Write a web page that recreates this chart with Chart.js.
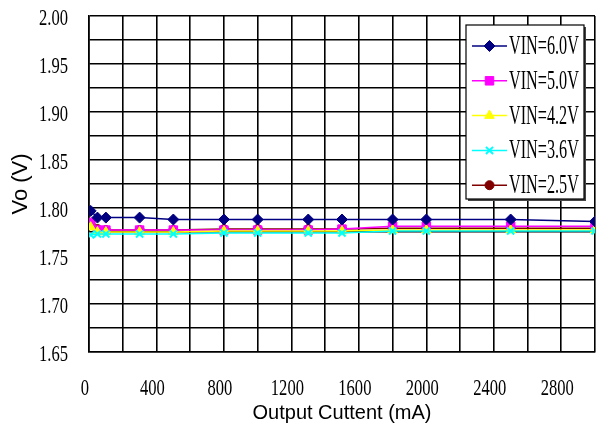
<!DOCTYPE html>
<html>
<head>
<meta charset="utf-8">
<script src="https://cdn.jsdelivr.net/npm/chart.js@4.4.1/dist/chart.umd.min.js"></script>
<style>
  html, body { margin: 0; padding: 0; background: #fff; overflow: hidden; }
  #wrap { width: 602px; height: 430px; }
</style>
</head>
<body>
<div id="wrap"><canvas id="voChart"></canvas></div>
<script>
// output current (mA) and measured output voltage per input voltage
const currents = [10, 50, 100, 300, 500, 800, 1000, 1300, 1500, 1800, 2000, 2500, 3000];
const vin60 = [1.797, 1.790, 1.790, 1.790, 1.788, 1.788, 1.788, 1.788, 1.788, 1.788, 1.788, 1.788, 1.786];
const vin50 = [1.785, 1.777, 1.777, 1.777, 1.777, 1.777, 1.777, 1.777, 1.778, 1.781, 1.781, 1.781, 1.781];
const vin42 = [1.780, 1.775, 1.775, 1.775, 1.775, 1.776, 1.776, 1.776, 1.776, 1.777, 1.777, 1.777, 1.777];
const vin36 = [1.772, 1.773, 1.773, 1.773, 1.773, 1.774, 1.774, 1.774, 1.774, 1.776, 1.776, 1.776, 1.776];
const vin25 = [1.783, 1.778, 1.777, 1.777, 1.777, 1.778, 1.778, 1.778, 1.778, 1.779, 1.779, 1.779, 1.779];
const seriesNames = ['VIN=6.0V', 'VIN=5.0V', 'VIN=4.2V', 'VIN=3.6V', 'VIN=2.5V'];

const xTickLabels = [0, 400, 800, 1200, 1600, 2000, 2400, 2800];
const yTickLabels = ['1.65', '1.70', '1.75', '1.80', '1.85', '1.90', '1.95', '2.00'];

const serifFont = '"Liberation Serif", "DejaVu Serif", serif';
const sansFont = '"Liberation Sans", Arial, sans-serif';

// order: higher values are painted first, so the 6.0V trace stays on top
function series(label, values, color, style, radius, order) {
  return {
    label: label,
    data: currents.map((c, i) => ({ x: c, y: values[i] })),
    borderColor: color,
    backgroundColor: color,
    borderWidth: 1.5,
    pointStyle: style,
    pointRadius: radius,
    pointBorderWidth: style === 'crossRot' ? 2 : 1,
    tension: 0,
    order: order
  };
}

// narrow tall text, like the old bitmap serif the plot was made with
function drawSqueezed(ctx, text, x, y, sx, align) {
  ctx.save();
  ctx.translate(x, y);
  ctx.scale(sx, 1);
  ctx.textAlign = align;
  ctx.fillText(text, 0, 0);
  ctx.restore();
}

// tick numbers placed from the scales
const squeezedTicks = {
  id: 'squeezedTicks',
  afterDraw(chart) {
    const { ctx, scales: { x, y } } = chart;
    ctx.save();
    ctx.fillStyle = '#000';
    ctx.font = '23px ' + serifFont;
    ctx.textBaseline = 'middle';
    yTickLabels.forEach(t => {
      drawSqueezed(ctx, t, 68, y.getPixelForValue(parseFloat(t)) + 3, 0.72, 'right');
    });
    xTickLabels.forEach(v => {
      drawSqueezed(ctx, String(v), x.getPixelForValue(v) - 4, 389, 0.72, 'center');
    });
    ctx.restore();
  }
};

// legend box inside the plot, top right
const boxLegend = {
  id: 'boxLegend',
  afterDraw(chart) {
    const ctx = chart.ctx;
    const left = 466, top = 25, w = 118, h = 174;
    ctx.save();
    ctx.fillStyle = '#444';
    ctx.fillRect(left + 2, top + 2, w, h);
    ctx.fillStyle = '#fff';
    ctx.fillRect(left, top, w, h);
    ctx.strokeStyle = '#000';
    ctx.lineWidth = 1.2;
    ctx.strokeRect(left, top, w, h);
    chart.data.datasets.forEach((ds, i) => {
      const y = 46 + i * 34.8;
      ctx.strokeStyle = ds.borderColor;
      ctx.fillStyle = ds.backgroundColor;
      ctx.lineWidth = 1.5;
      ctx.beginPath();
      ctx.moveTo(472, y);
      ctx.lineTo(507, y);
      ctx.stroke();
      ctx.lineWidth = ds.pointBorderWidth;
      Chart.helpers.drawPoint(ctx, {
        pointStyle: ds.pointStyle,
        radius: ds.pointRadius,
        borderWidth: ds.pointBorderWidth,
        rotation: 0
      }, 489.5, y);
      ctx.fillStyle = '#000';
      ctx.font = '27px ' + serifFont;
      ctx.textBaseline = 'middle';
      drawSqueezed(ctx, ds.label, 509, y + 1, 0.6, 'left');
    });
    ctx.restore();
  }
};

const ctx = document.getElementById('voChart').getContext('2d');
new Chart(ctx, {
  type: 'line',
  data: {
    datasets: [
      series(seriesNames[0], vin60, '#000080', 'rectRot', 5.5, 0),
      series(seriesNames[1], vin50, '#ff00ff', 'rect', 6, 3),
      series(seriesNames[2], vin42, '#ffff00', 'triangle', 5.5, 2),
      series(seriesNames[3], vin36, '#00ffff', 'crossRot', 5, 1),
      series(seriesNames[4], vin25, '#800000', 'circle', 4.5, 4)
    ]
  },
  options: {
    responsive: true,
    maintainAspectRatio: false,
    animation: false,
    layout: { padding: { top: 16, left: 0, right: 0, bottom: 0 } },
    plugins: {
      legend: { display: false },
      tooltip: { enabled: false }
    },
    scales: {
      x: {
        type: 'linear',
        min: 0,
        max: 3000,
        afterFit(scale) {
          scale.height = 78;
          scale.paddingLeft = 0;
          scale.paddingRight = 0;
        },
        ticks: { display: false, stepSize: 200, autoSkip: false },
        grid: { color: '#000', lineWidth: 1.6, drawTicks: false },
        border: { color: '#000', width: 1.6 },
        title: {
          display: true,
          text: 'Output Cuttent (mA)',
          color: '#000',
          font: { family: sansFont, size: 20 },
          padding: { top: 0, bottom: 5 }
        }
      },
      y: {
        type: 'linear',
        min: 1.65,
        max: 2.00,
        afterFit(scale) {
          scale.width = 89;
          scale.paddingTop = 0;
          scale.paddingBottom = 0;
        },
        ticks: { display: false, stepSize: 0.025, autoSkip: false },
        grid: { color: '#000', lineWidth: 1.6, drawTicks: false },
        border: { color: '#000', width: 1.6 },
        title: {
          display: true,
          text: 'Vo (V)',
          color: '#000',
          font: { family: sansFont, size: 22 },
          padding: { top: 8, bottom: 0 }
        }
      }
    }
  },
  plugins: [squeezedTicks, boxLegend]
});
</script>
</body>
</html>
